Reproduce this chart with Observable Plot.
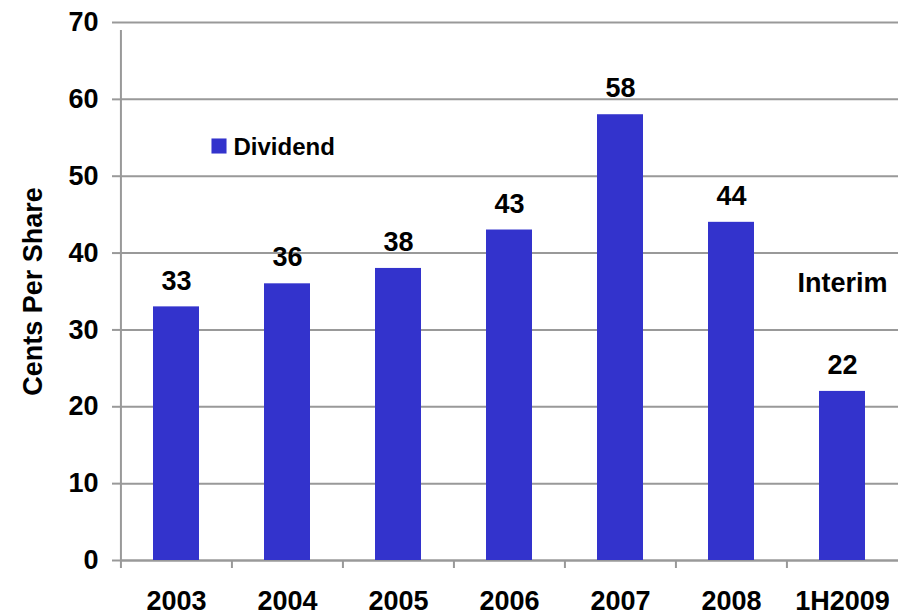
<!DOCTYPE html>
<html>
<head>
<meta charset="utf-8">
<script src="https://cdn.jsdelivr.net/npm/d3@7"></script>
<script src="https://cdn.jsdelivr.net/npm/@observablehq/plot@0.6"></script>
<style>
  html, body { margin: 0; padding: 0; background: #fff; }
  #chart { width: 898px; height: 616px; }
</style>
</head>
<body>
<div id="chart"></div>
<script>
const years = ["2003", "2004", "2005", "2006", "2007", "2008", "1H2009"];
const dividends = [33, 36, 38, 43, 58, 44, 22];
const yTicks = [0, 10, 20, 30, 40, 50, 60, 70];
const seriesName = "Dividend";
const noteLabel = "Interim";
const noteCategory = "1H2009";
const yTitle = "Cents Per Share";

const data = years.map((y, i) => ({year: y, value: dividends[i]}));

const W = 898, H = 616, ML = 120, MR = 0, MT = 22, MB = 56;
const step = (W - ML - MR) / years.length;
const font = "'Liberation Sans', Arial, sans-serif";
const gridColor = "#999";
const barColor = "#3333CC";

const chart = Plot.plot({
  width: W,
  height: H,
  marginLeft: ML,
  marginRight: MR,
  marginTop: MT,
  marginBottom: MB,
  style: {fontFamily: font, fontWeight: "bold", fontSize: "27px", color: "#000", background: "#fff"},
  x: {domain: years, paddingInner: 0.585, paddingOuter: 0.2925, label: null},
  y: {domain: [0, 70], ticks: yTicks, label: null},
  marks: [
    Plot.gridY(yTicks, {stroke: gridColor, strokeWidth: 2, strokeOpacity: 1}),
    Plot.axisY(yTicks, {tickSize: 8, tickPadding: 14, stroke: gridColor, strokeWidth: 2, fill: "#000", fontSize: 27, fontWeight: "bold", label: null}),
    Plot.axisX({tickSize: 0, tickPadding: 30, fill: "#000", fontSize: 27, fontWeight: "bold", label: null}),
    // category boundary ticks and y axis line
    Plot.ruleX(years, {x: d => d, y1: 0, y2: 0, dx: -step / 2, insetBottom: -8, stroke: gridColor, strokeWidth: 2}),
    Plot.ruleX([years[0]], {x: d => d, y1: 0, y2: 70, dx: -step / 2, insetBottom: -8, stroke: gridColor, strokeWidth: 2}),
    Plot.ruleY([0], {stroke: gridColor, strokeWidth: 2}),
    Plot.barY(data, {x: "year", y: "value", fill: barColor}),
    Plot.text(data, {x: "year", y: "value", text: d => String(d.value), dy: -26, lineAnchor: "middle", fontSize: 27, fontWeight: "bold", fill: "#000"}),
    Plot.text(data.filter(d => d.year === noteCategory), {x: "year", y: "value", text: () => noteLabel, dy: -108, lineAnchor: "middle", fontSize: 27, fontWeight: "bold", fill: "#000"}),
    // legend inside plot
    Plot.dot([seriesName], {frameAnchor: "top-left", dx: 98.5, dy: 123.5, symbol: "square", r: 8.5, fill: barColor, stroke: "none"}),
    Plot.text([seriesName], {frameAnchor: "top-left", dx: 113, dy: 125, text: d => d, textAnchor: "start", lineAnchor: "middle", fontSize: 24, fontWeight: "bold", fill: "#000"}),
    // y axis title
    Plot.text([yTitle], {frameAnchor: "left", dx: -87, rotate: -90, text: d => d, textAnchor: "middle", lineAnchor: "middle", fontSize: 27, fontWeight: "bold", fill: "#000"})
  ]
});
document.getElementById("chart").appendChild(chart);
</script>
</body>
</html>
